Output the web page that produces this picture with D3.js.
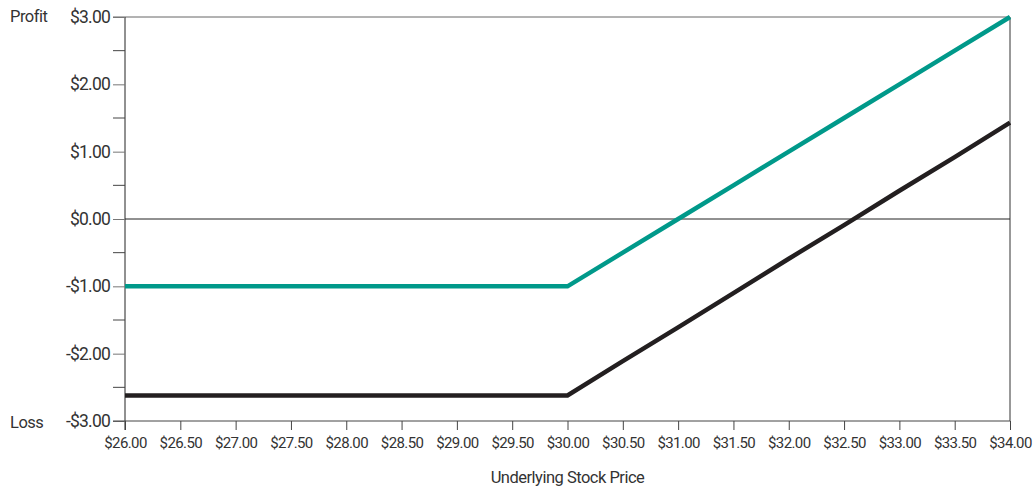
<!DOCTYPE html>
<html><head><meta charset="utf-8">
<script src="https://cdn.jsdelivr.net/npm/d3@7"></script>
<style>body{margin:0;background:#fff}svg{display:block}text{font-family:Roboto,"Liberation Sans",sans-serif;fill:#333}</style>
</head><body>
<svg id="c" width="1036" height="489"></svg>
<script>
const prices = [26,26.5,27,27.5,28,28.5,29,29.5,30,30.5,31,31.5,32,32.5,33,33.5,34];
const teal = [-1,-1,-1,-1,-1,-1,-1,-1,-1,-0.5,0,0.5,1,1.5,2,2.5,3];
const black = [-2.62,-2.62,-2.62,-2.62,-2.62,-2.62,-2.62,-2.62,-2.62,-2.11,-1.61,-1.1,-0.59,-0.09,0.42,0.92,1.43];
const yMajor = [-3,-2,-1,0,1,2,3];
const yMinor = [-2.5,-1.5,-0.5,0.5,1.5,2.5];

const svg = d3.select("#c");
const L=125, R=1010, T=17, B=421;
const x = d3.scaleLinear().domain([26,34]).range([L,R]);
const y = d3.scaleLinear().domain([-3,3]).range([B,T]);
const fmt = v => (v<0?"-":"") + "$" + Math.abs(v).toFixed(2);

svg.append("line").attr("x1",113).attr("x2",R).attr("y1",y(3)).attr("y2",y(3)).attr("stroke","#666").attr("stroke-width",1);
svg.append("line").attr("x1",R).attr("x2",R).attr("y1",T).attr("y2",B).attr("stroke","#333").attr("stroke-width",1);
svg.append("line").attr("x1",L).attr("x2",R).attr("y1",y(0)).attr("y2",y(0)).attr("stroke","#222").attr("stroke-width",1);

const ya = svg.append("g").attr("transform",`translate(${L},0)`)
  .call(d3.axisLeft(y).tickValues(yMajor).tickFormat(fmt).tickSize(12).tickPadding(3));
ya.selectAll("text").style("font-size","17.5px").style("letter-spacing","-0.8px").attr("fill","#333");
ya.select(".domain").attr("stroke","#222").attr("d",`M0,${T}V${B+9}`);
ya.selectAll(".tick line").attr("stroke","#777");
svg.append("g").selectAll("line").data(yMinor).join("line")
  .attr("x1",L-12).attr("x2",L).attr("y1",d=>y(d)).attr("y2",d=>y(d)).attr("stroke","#444");

const xa = svg.append("g").attr("transform",`translate(0,${B})`)
  .call(d3.axisBottom(x).tickValues(prices).tickFormat(fmt).tickSize(9).tickPadding(7));
xa.selectAll("text").style("font-size","15px").style("letter-spacing","-0.6px").attr("fill","#333");
xa.select(".domain").attr("stroke","#444").attr("d",`M${L-12},0H${R}`);
xa.selectAll(".tick line").attr("stroke","#444");

svg.append("text").attr("x",10).attr("y",y(3)).attr("dy","0.32em").style("font-size","16.5px").style("letter-spacing","-0.5px").text("Profit");
svg.append("text").attr("x",10).attr("y",y(-3)+2).attr("dy","0.32em").style("font-size","16.5px").style("letter-spacing","-0.5px").text("Loss");
svg.append("text").attr("x",(L+R)/2).attr("y",483).attr("text-anchor","middle").style("font-size","16.5px").style("letter-spacing","-0.5px").text("Underlying Stock Price");

const line = d3.line().x((d,i)=>x(prices[i])).y(d=>y(d));
svg.append("path").datum(black).attr("d",line).attr("fill","none").attr("stroke","#231f20").attr("stroke-width",4.5);
svg.append("path").datum(teal).attr("d",line).attr("fill","none").attr("stroke","#00998a").attr("stroke-width",4.5);
</script>
</body></html>
